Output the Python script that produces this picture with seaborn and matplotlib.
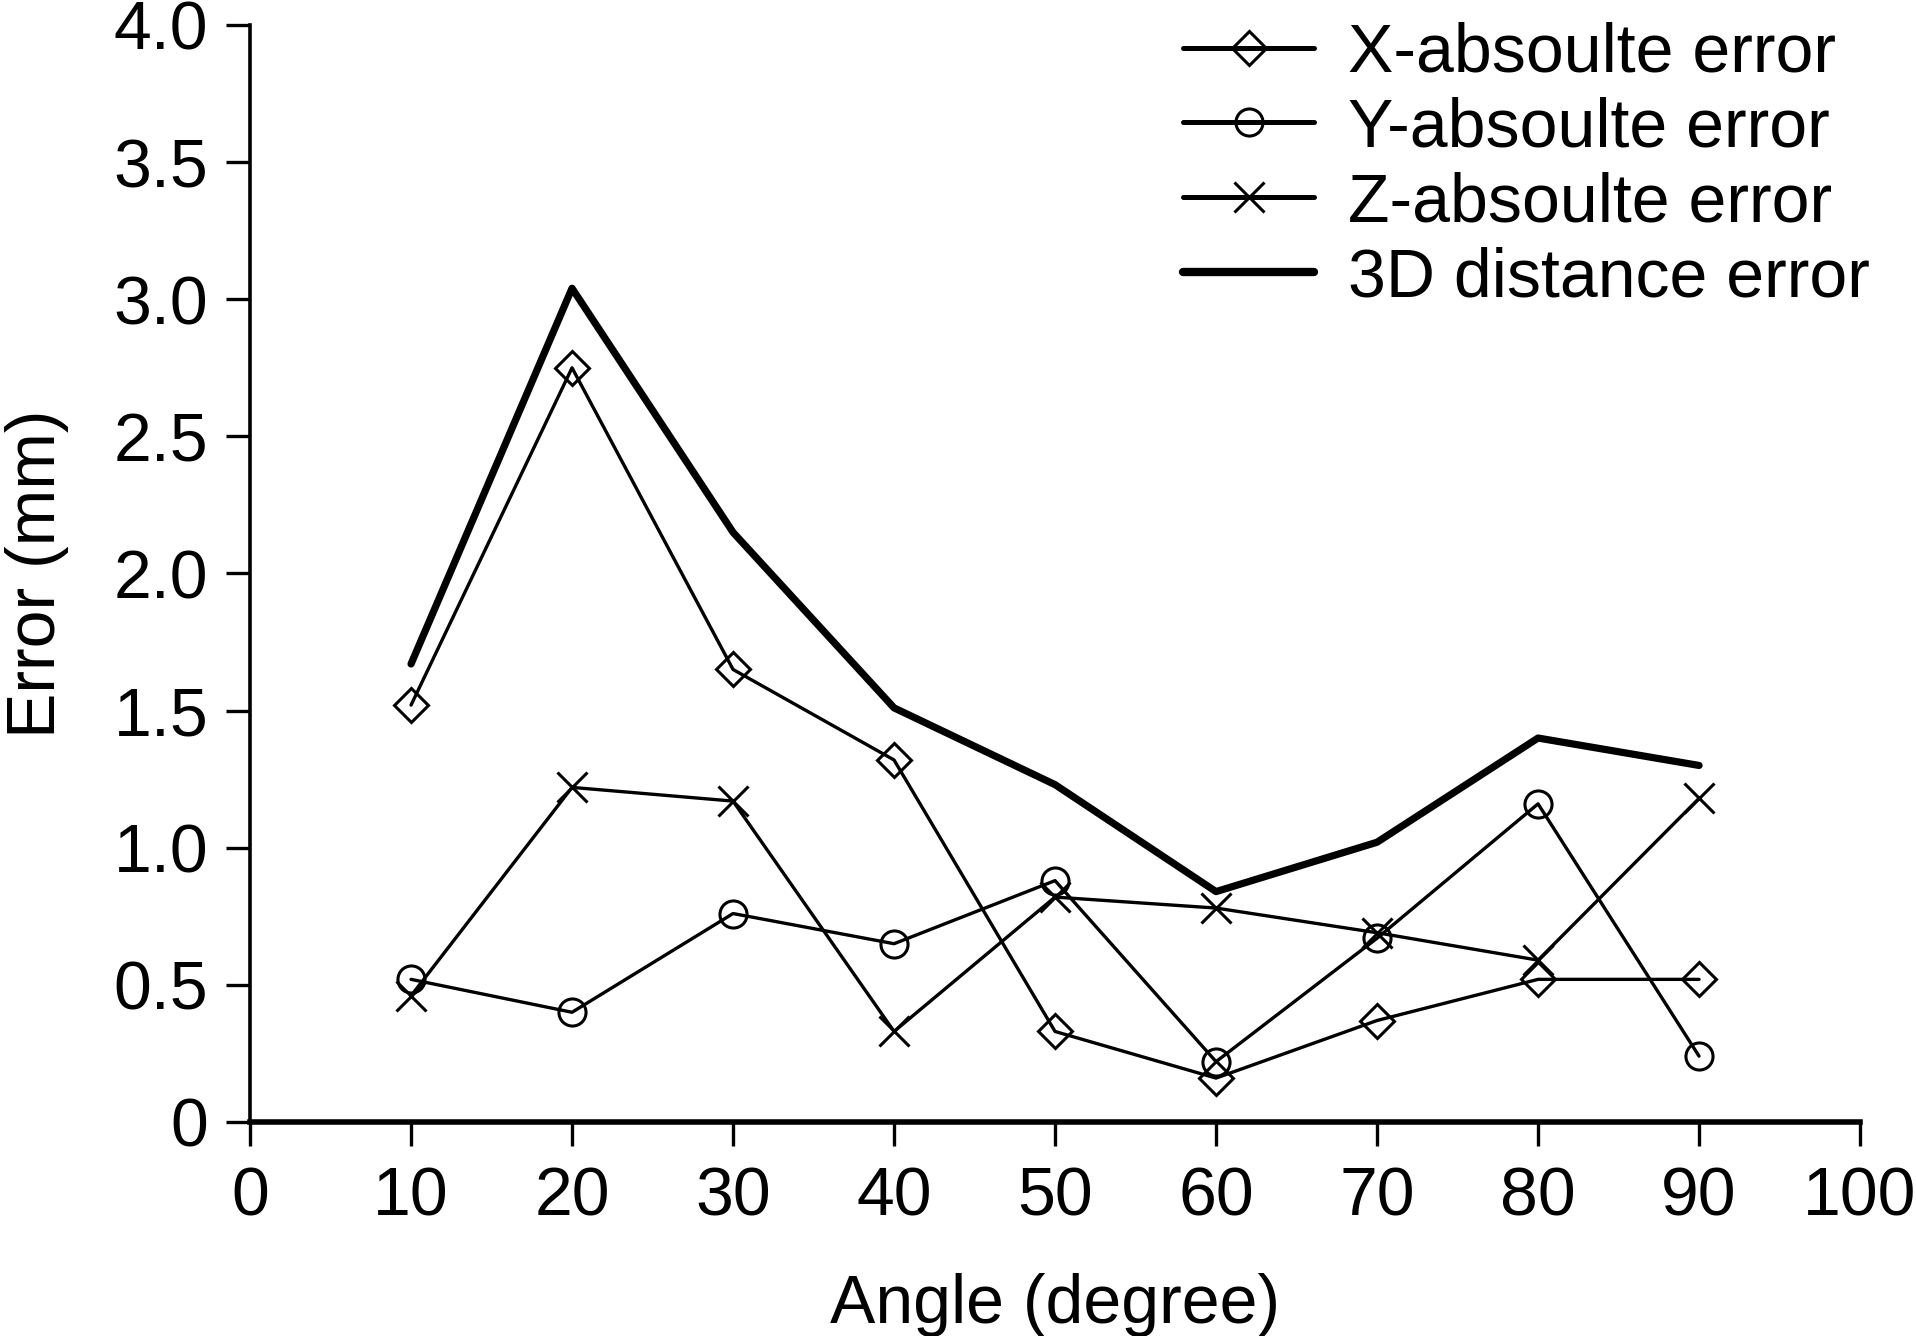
import numpy as np
import pandas as pd
import matplotlib
matplotlib.use("Agg")
import matplotlib.pyplot as plt
import seaborn as sns

# values
angles = [10, 20, 30, 40, 50, 60, 70, 80, 90]
x_abs_error = [1.52, 2.75, 1.65, 1.32, 0.33, 0.16, 0.37, 0.52, 0.52]
y_abs_error = [0.52, 0.40, 0.76, 0.65, 0.88, 0.22, 0.67, 1.16, 0.24]
z_abs_error = [0.46, 1.22, 1.17, 0.33, 0.82, 0.78, 0.69, 0.59, 1.18]
dist_3d_error = [1.67, 3.04, 2.15, 1.51, 1.23, 0.84, 1.02, 1.40, 1.30]

series_names = ["X-absoulte error", "Y-absoulte error", "Z-absoulte error", "3D distance error"]
x_ticks = [0, 10, 20, 30, 40, 50, 60, 70, 80, 90, 100]
y_ticks = [0, 0.5, 1.0, 1.5, 2.0, 2.5, 3.0, 3.5, 4.0]
y_tick_labels = ["0", "0.5", "1.0", "1.5", "2.0", "2.5", "3.0", "3.5", "4.0"]

sns.set_style("ticks")
plt.rcParams["font.family"] = ["Liberation Sans", "DejaVu Sans"]
plt.rcParams["text.color"] = "black"
plt.rcParams["axes.labelcolor"] = "black"
plt.rcParams["xtick.color"] = "black"
plt.rcParams["ytick.color"] = "black"

fig = plt.figure(figsize=(19.16, 13.36), dpi=100)
ax = fig.add_axes([0.1305, 0.1602, 0.8403, 0.8211])

fs = 49
thin = dict(color="black", linewidth=2.4, markeredgewidth=2.2,
            markeredgecolor="black", fillstyle="none")

sns.lineplot(x=angles, y=x_abs_error, ax=ax, marker="D", markersize=17,
             label=series_names[0], **thin)
sns.lineplot(x=angles, y=y_abs_error, ax=ax, marker="o", markersize=19.5,
             label=series_names[1], **thin)
sns.lineplot(x=angles, y=z_abs_error, ax=ax, marker="x", markersize=21,
             label=series_names[2], **thin)
sns.lineplot(x=angles, y=dist_3d_error, ax=ax, color="black", linewidth=5.2,
             label=series_names[3])

ax.set_xlim(0, 100)
ax.set_ylim(0, 4.0)
ax.set_xticks(x_ticks)
ax.set_yticks(y_ticks)
ax.set_yticklabels(y_tick_labels)
ax.tick_params(axis="both", labelsize=fs, length=17, width=2.4, color="black",
               labelcolor="black")
ax.tick_params(axis="y", pad=13)
ax.tick_params(axis="x", pad=14)

sns.despine(ax=ax)
ax.spines["left"].set_linewidth(2.6)
ax.spines["bottom"].set_linewidth(4)
ax.spines["left"].set_color("black")
ax.spines["bottom"].set_color("black")
ax.margins(0)

ax.set_xlabel("Angle (degree)", fontsize=fs, labelpad=32)
ax.set_ylabel("Error (mm)", fontsize=fs, labelpad=32)

leg = ax.legend(loc="upper left", bbox_to_anchor=(0.6174, 0.984),
                bbox_transform=fig.transFigure, frameon=False, fontsize=fs,
                handlelength=1.93, handletextpad=0.5, labelspacing=0.16,
                borderpad=0, borderaxespad=0, numpoints=1)
for line in leg.get_lines()[:3]:
    line.set_linewidth(3.6)
leg.get_lines()[3].set_linewidth(6)

fig.savefig("out.png", dpi=100, facecolor="white")
